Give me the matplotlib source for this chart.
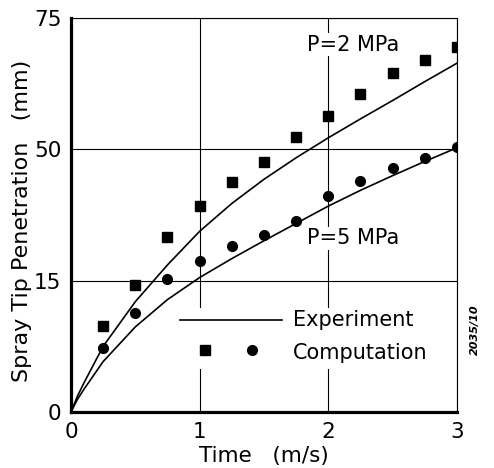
import numpy as np
import matplotlib
matplotlib.use('Agg')
import matplotlib.pyplot as plt
from matplotlib.patches import Rectangle

# experiment curves, y in plot units 0-75
tExp = [0, 0.05, 0.1, 0.25, 0.5, 0.75, 1.0, 1.25, 1.5, 1.75, 2.0, 2.25, 2.5, 2.75, 3.0]
exp2 = [0, 3.0, 5.5, 12.5, 21.0, 28.0, 34.4, 39.7, 44.3, 48.4, 52.2, 55.8, 59.3, 62.9, 66.4]
exp5 = [0, 2.4, 4.3, 9.6, 16.2, 21.4, 25.6, 29.2, 32.6, 35.9, 39.2, 42.2, 45.0, 47.7, 50.3]

# computation points
tComp = [0.25, 0.5, 0.75, 1.0, 1.25, 1.5, 1.75, 2.0, 2.25, 2.5, 2.75, 3.0]
comp2 = [16.4, 24.2, 33.3, 39.2, 43.8, 47.6, 52.3, 56.3, 60.5, 64.5, 67.0, 69.5]
comp5 = [12.2, 18.8, 25.3, 28.7, 31.6, 33.7, 36.4, 41.1, 44.0, 46.4, 48.4, 50.4]

yTicks = [0, 25, 50, 75]
yTickLabels = ['0', '15', '50', '75']
xTicks = [0, 1, 2, 3]

fig = plt.figure(figsize=(4.94, 4.68), dpi=100)
ax = fig.add_axes([0.1437, 0.1197, 0.7814, 0.8418])

ax.set_xlim(0, 3)
ax.set_ylim(0, 75)
ax.set_xticks(xTicks)
ax.set_xticklabels([str(x) for x in xTicks])
ax.set_yticks(yTicks)
ax.set_yticklabels(yTickLabels)
ax.tick_params(length=0, labelsize=15.5, pad=7)
ax.grid(True, color='black', linewidth=0.8, zorder=1)
ax.set_axisbelow(True)

for s in ['left', 'bottom']:
    ax.spines[s].set_linewidth(2.3)
for s in ['top', 'right']:
    ax.spines[s].set_linewidth(0.8)

# white patch behind legend breaks the grid
ax.add_patch(Rectangle((0.27, 0.11), 0.72, 0.155, transform=ax.transAxes,
                       facecolor='white', edgecolor='none', zorder=1.5))

ax.plot(tExp, exp2, color='black', linewidth=1.2, zorder=3)
ax.plot(tExp, exp5, color='black', linewidth=1.2, zorder=3)
ax.plot(tComp, comp2, 's', color='black', markersize=7.5, zorder=4)
ax.plot(tComp, comp5, 'o', color='black', markersize=7, zorder=4)

ax.text(2.19, 69.9, 'P=2 MPa', fontsize=15, ha='center', va='center', zorder=5,
        bbox=dict(facecolor='white', edgecolor='none', pad=1))
ax.text(2.19, 33.1, 'P=5 MPa', fontsize=15, ha='center', va='center', zorder=5,
        bbox=dict(facecolor='white', edgecolor='none', pad=1))

# legend drawn by hand
ax.plot([0.282, 0.547], [0.2335, 0.2335], color='black', linewidth=1.2,
        transform=ax.transAxes, zorder=3)
ax.plot([0.347], [0.157], 's', color='black', markersize=7.5, transform=ax.transAxes, zorder=4)
ax.plot([0.469], [0.157], 'o', color='black', markersize=7, transform=ax.transAxes, zorder=4)
ax.text(0.575, 0.2335, 'Experiment', fontsize=15, va='center', transform=ax.transAxes, zorder=5)
ax.text(0.575, 0.15, 'Computation', fontsize=15, va='center', transform=ax.transAxes, zorder=5)

ax.set_xlabel('Time   (m/s)', fontsize=15.5, labelpad=3)
ax.set_ylabel('Spray Tip Penetration   (mm)', fontsize=16, labelpad=4)
ax.yaxis.set_label_coords(-0.1, 0.485)

fig.text(0.962, 0.295, '2035/10', rotation=90, fontsize=8, fontstyle='italic',
         fontweight='bold', ha='center', va='center')

fig.savefig('out.png', dpi=100)
